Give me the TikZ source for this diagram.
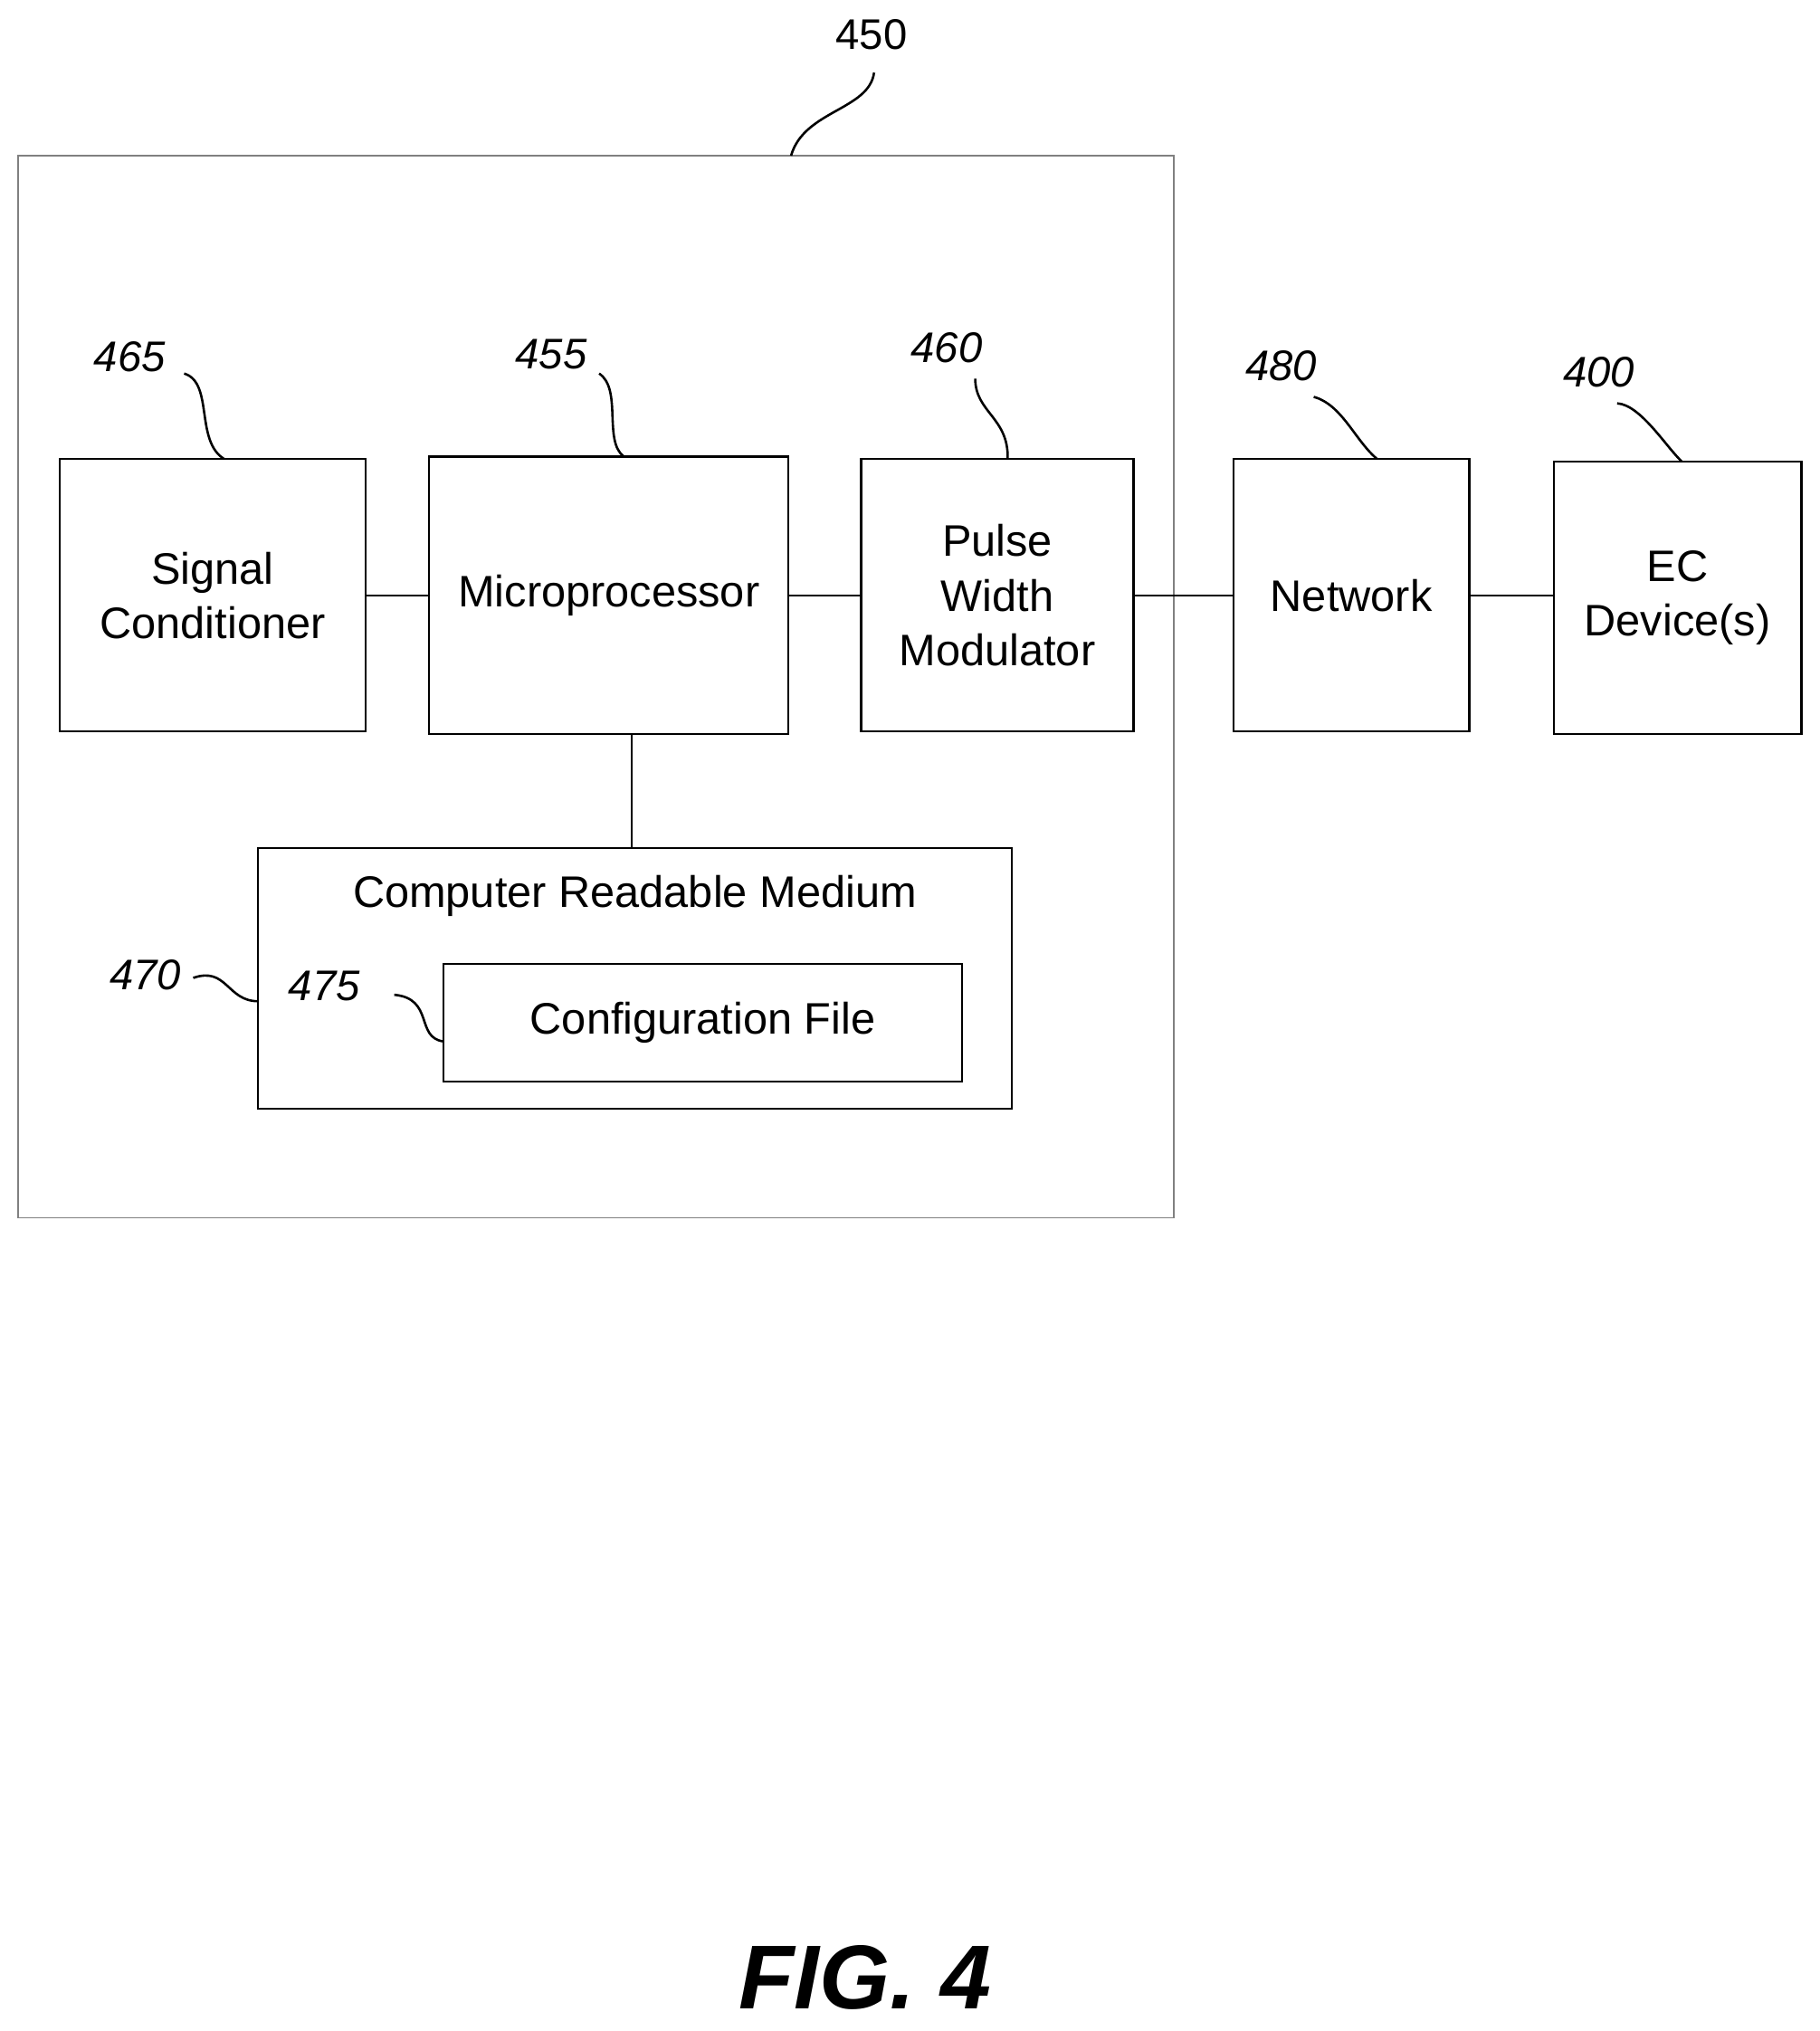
\documentclass[tikz,border=0pt]{standalone}
\usepackage{fontspec}
\setmainfont{Liberation Sans}
\begin{document}
\begin{tikzpicture}[x=1pt,y=-1pt,
  box/.style={draw,line width=1.6pt,inner sep=0pt},
  lbl/.style={font=\fontsize{33}{40}\selectfont\itshape},
  txt/.style={font=\fontsize{34}{42}\selectfont,align=center},
  ln/.style={line width=1.6pt},
  sq/.style={line width=1.8pt}]
\useasboundingbox (0,0) rectangle (1403,1566);
\draw[gray,line width=1.2pt] (14,120) rectangle (905,939);
\node[box,minimum width=236pt,minimum height=210pt,txt] (sc) at (164,459) {Signal\\Conditioner};
\node[box,minimum width=277pt,minimum height=214pt,txt] (mp) at (469.5,459) {Microprocessor};
\node[box,minimum width=210pt,minimum height=210pt,txt] (pwm) at (769,459) {Pulse\\Width\\Modulator};
\node[box,minimum width=182pt,minimum height=210pt,txt] (net) at (1042,459) {Network};
\node[box,minimum width=191pt,minimum height=210pt,txt] (ec) at (1293.5,461) {EC\\Device(s)};
\node[box,minimum width=581pt,minimum height=201pt] (crm) at (489.5,754.5) {};
\node[txt] (crmt) at (489.5,691) {Computer Readable Medium};
\node[box,minimum width=400pt,minimum height=91pt,txt] (cf) at (542,788.5) {Configuration File};
\draw[ln] (sc.east) -- (mp.west);
\draw[ln] (mp.east) -- (pwm.west);
\draw[ln] (pwm.east) -- (net.west);
\draw[ln] (net.east) -- (ec.west |- net.east);
\draw[ln] (487,566) coordinate (a) -- (487,654) coordinate (b);
\node[font=\fontsize{33}{40}\selectfont] (l450) at (672,27) {450};
\node[lbl] (l465) at (100,275) {465};
\node[lbl] (l455) at (425,273) {455};
\node[lbl] (l460) at (730,268) {460};
\node[lbl] (l480) at (988,282) {480};
\node[lbl] (l400) at (1233,287) {400};
\node[lbl] (l470) at (112,752) {470};
\node[lbl] (l475) at (250,760) {475};
\draw[sq] (674,56) .. controls (670,85) and (620,85) .. (610,120);
\draw[sq] (142,288) .. controls (165,295) and (150,340) .. (173,354);
\draw[sq] (462,288) .. controls (480,300) and (465,340) .. (481,352);
\draw[sq] (752,292) .. controls (752,318) and (778,322) .. (777,354);
\draw[sq] (1013,306) .. controls (1035,312) and (1045,340) .. (1062,354);
\draw[sq] (1247,311) .. controls (1265,312) and (1285,345) .. (1297,356);
\draw[sq] (149,754) .. controls (175,745) and (175,772) .. (199,772);
\draw[sq] (304,767) .. controls (335,770) and (320,800) .. (342,803);
\node[font=\fontsize{70}{80}\selectfont\bfseries\itshape] (fig) at (667,1525) {FIG. 4};
\end{tikzpicture}
\end{document}
